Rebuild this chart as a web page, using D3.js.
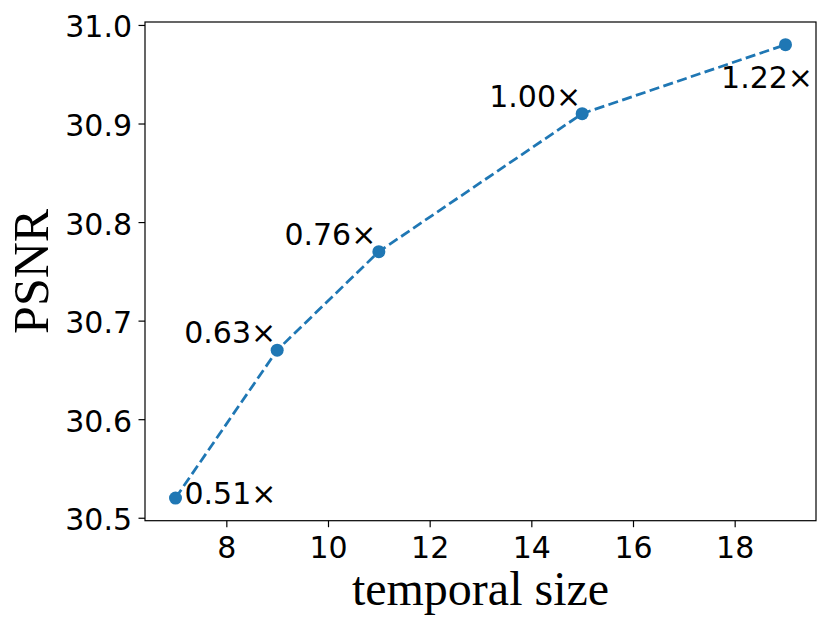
<!DOCTYPE html>
<html>
<head>
<meta charset="utf-8">
<script src="https://cdn.jsdelivr.net/npm/d3@7"></script>
<style>
  body { margin: 0; background: #fff; }
  svg { display: block; }
</style>
</head>
<body>
<svg id="chart" width="830" height="630"></svg>
<script>
// data
var temporalSize = [7, 9, 11, 15, 19];
var psnr = [30.52, 30.67, 30.77, 30.91, 30.98];
var speedLabels = ['0.51×', '0.63×', '0.76×', '1.00×', '1.22×'];

var xTicks = [8, 10, 12, 14, 16, 18];
var yTicks = [30.5, 30.6, 30.7, 30.8, 30.9, 31.0];

// where each annotation sits relative to its point (px) and which side it hangs on
var labelDx = [9, -1, -2.5, -1, 27.5];
var labelDy = [6, -7, -6.5, -7, 43];
var labelAnchor = ['start', 'end', 'end', 'end', 'end'];

var conf = {
    left: 145,
    right: 816,
    top: 22,
    bottom: 520.7,
    color: '#1f77b4',
    tickFont: 30
};

var svg = d3.select('#chart');

var x = d3.scaleLinear().domain([6.4, 19.6]).range([conf.left, conf.right]);
var y = d3.scaleLinear().domain([30.497, 31.003]).range([conf.bottom, conf.top]);

var xAxis = d3.axisBottom(x).tickValues(xTicks).tickFormat(d3.format('d'))
    .tickSizeInner(6.5).tickSizeOuter(0).tickPadding(10);
var yAxis = d3.axisLeft(y).tickValues(yTicks).tickFormat(d3.format('.1f'))
    .tickSizeInner(6.5).tickSizeOuter(0).tickPadding(6.5);

var gx = svg.append('g')
    .attr('transform', 'translate(0,' + conf.bottom + ')')
    .call(xAxis);
var gy = svg.append('g')
    .attr('transform', 'translate(' + conf.left + ',0)')
    .call(yAxis);

[gx, gy].forEach(function(g){
    g.select('.domain').remove();
    g.selectAll('.tick line').attr('stroke', '#000').attr('stroke-width', 1.2);
    g.selectAll('.tick text')
        .attr('fill', '#000')
        .style('font-family', '"DejaVu Sans", sans-serif')
        .style('font-size', conf.tickFont + 'px');
});
gx.selectAll('.tick text').attr('dy', '0.71em');
gy.selectAll('.tick text').attr('dy', '0.4em');

// frame
svg.append('rect')
    .attr('x', conf.left)
    .attr('y', conf.top)
    .attr('width', conf.right - conf.left)
    .attr('height', conf.bottom - conf.top)
    .attr('fill', 'none')
    .attr('stroke', '#000')
    .attr('stroke-width', 1.2);

var points = temporalSize.map(function(t, i){ return {t: t, v: psnr[i], label: speedLabels[i], i: i}; });

var line = d3.line()
    .x(function(d){ return x(d.t); })
    .y(function(d){ return y(d.v); });

svg.append('path')
    .datum(points)
    .attr('d', line)
    .attr('fill', 'none')
    .attr('stroke', conf.color)
    .attr('stroke-width', 2.75)
    .attr('stroke-dasharray', '10.1,4.4');

svg.selectAll('circle.pt')
    .data(points)
    .enter().append('circle')
    .attr('class', 'pt')
    .attr('cx', function(d){ return x(d.t); })
    .attr('cy', function(d){ return y(d.v); })
    .attr('r', 6.5)
    .attr('fill', conf.color);

svg.selectAll('text.ann')
    .data(points)
    .enter().append('text')
    .attr('class', 'ann')
    .attr('x', function(d){ return x(d.t) + labelDx[d.i]; })
    .attr('y', function(d){ return y(d.v) + labelDy[d.i]; })
    .attr('text-anchor', function(d){ return labelAnchor[d.i]; })
    .style('font-family', '"DejaVu Sans", sans-serif')
    .style('font-size', conf.tickFont + 'px')
    .text(function(d){ return d.label; });

// axis titles
svg.append('text')
    .attr('x', (conf.left + conf.right) / 2)
    .attr('y', 605)
    .attr('text-anchor', 'middle')
    .style('font-family', '"Liberation Serif", "Times New Roman", serif')
    .style('font-size', '48px')
    .text('temporal size');

svg.append('text')
    .attr('transform', 'translate(48,' + (conf.top + conf.bottom) / 2 + ') rotate(-90)')
    .attr('text-anchor', 'middle')
    .style('font-family', '"Liberation Serif", "Times New Roman", serif')
    .style('font-size', '50px')
    .text('PSNR');
</script>
</body>
</html>
